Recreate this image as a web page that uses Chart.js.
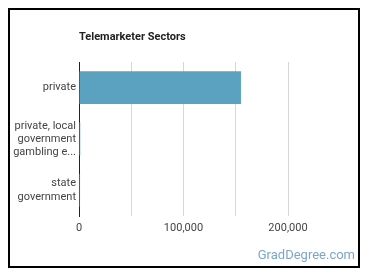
<!DOCTYPE html>
<html><head><meta charset="utf-8">
<script src="https://cdn.jsdelivr.net/npm/chart.js@4/dist/chart.umd.min.js"></script>
<style>html,body{margin:0;padding:0;background:#fff;}#wrap{width:370px;height:278px;}</style>
</head><body><div id="wrap"><canvas id="c" width="370" height="278"></canvas></div>
<script>
const categories = ["private", ["private, local", "government", "gambling e..."], ["state", "government"]];
const values = [155000, 1200, 1000];
const xTicks = [0, 100000, 200000];
const titleText = "Telemarketer Sectors";
const watermark = "GradDegree.com";

const deco = {
  id: 'deco',
  afterDraw(chart) {
    const ctx = chart.ctx;
    ctx.save();
    ctx.strokeStyle = '#000';
    ctx.lineWidth = 2;
    ctx.strokeRect(9, 9, 350, 258);
    ctx.fillStyle = '#222';
    ctx.font = 'bold 11px Roboto';
    ctx.textBaseline = 'middle';
    ctx.textAlign = 'left';
    ctx.fillText(titleText, chart.chartArea.left, 37);
    ctx.fillStyle = '#7ba7c7';
    ctx.font = '13px Roboto';
    ctx.textAlign = 'right';
    ctx.fillText(watermark, 355, 256);
    ctx.restore();
  }
};

new Chart(document.getElementById('c'), {
  type: 'bar',
  data: {
    labels: categories,
    datasets: [{
      data: values,
      backgroundColor: '#5aa2c0',
      borderWidth: 0,
      categoryPercentage: 1,
      barPercentage: 0.64
    }]
  },
  options: {
    indexAxis: 'y',
    responsive: false,
    animation: false,
    layout: { padding: { left: 10, right: 82, top: 62, bottom: 40 } },
    plugins: { legend: { display: false }, tooltip: { enabled: false } },
    scales: {
      x: {
        min: 0, max: 200000,
        afterFit(s) { s.height = 22; },
        border: { display: false },
        grid: { color: '#d6d6d6', drawTicks: false },
        ticks: {
          stepSize: 50000, padding: 6,
          color: '#444', font: { family: 'Roboto', size: 11 },
          callback(v) { return xTicks.includes(v) ? v.toLocaleString('en-US') : ''; }
        }
      },
      y: {
        afterFit(s) { s.width = 69; },
        border: { display: true, color: '#222', width: 1 },
        grid: { display: false, drawTicks: false },
        ticks: { padding: 3, color: '#444', font: { family: 'Roboto', size: 11 } }
      }
    }
  },
  plugins: [deco]
});
</script></body></html>
